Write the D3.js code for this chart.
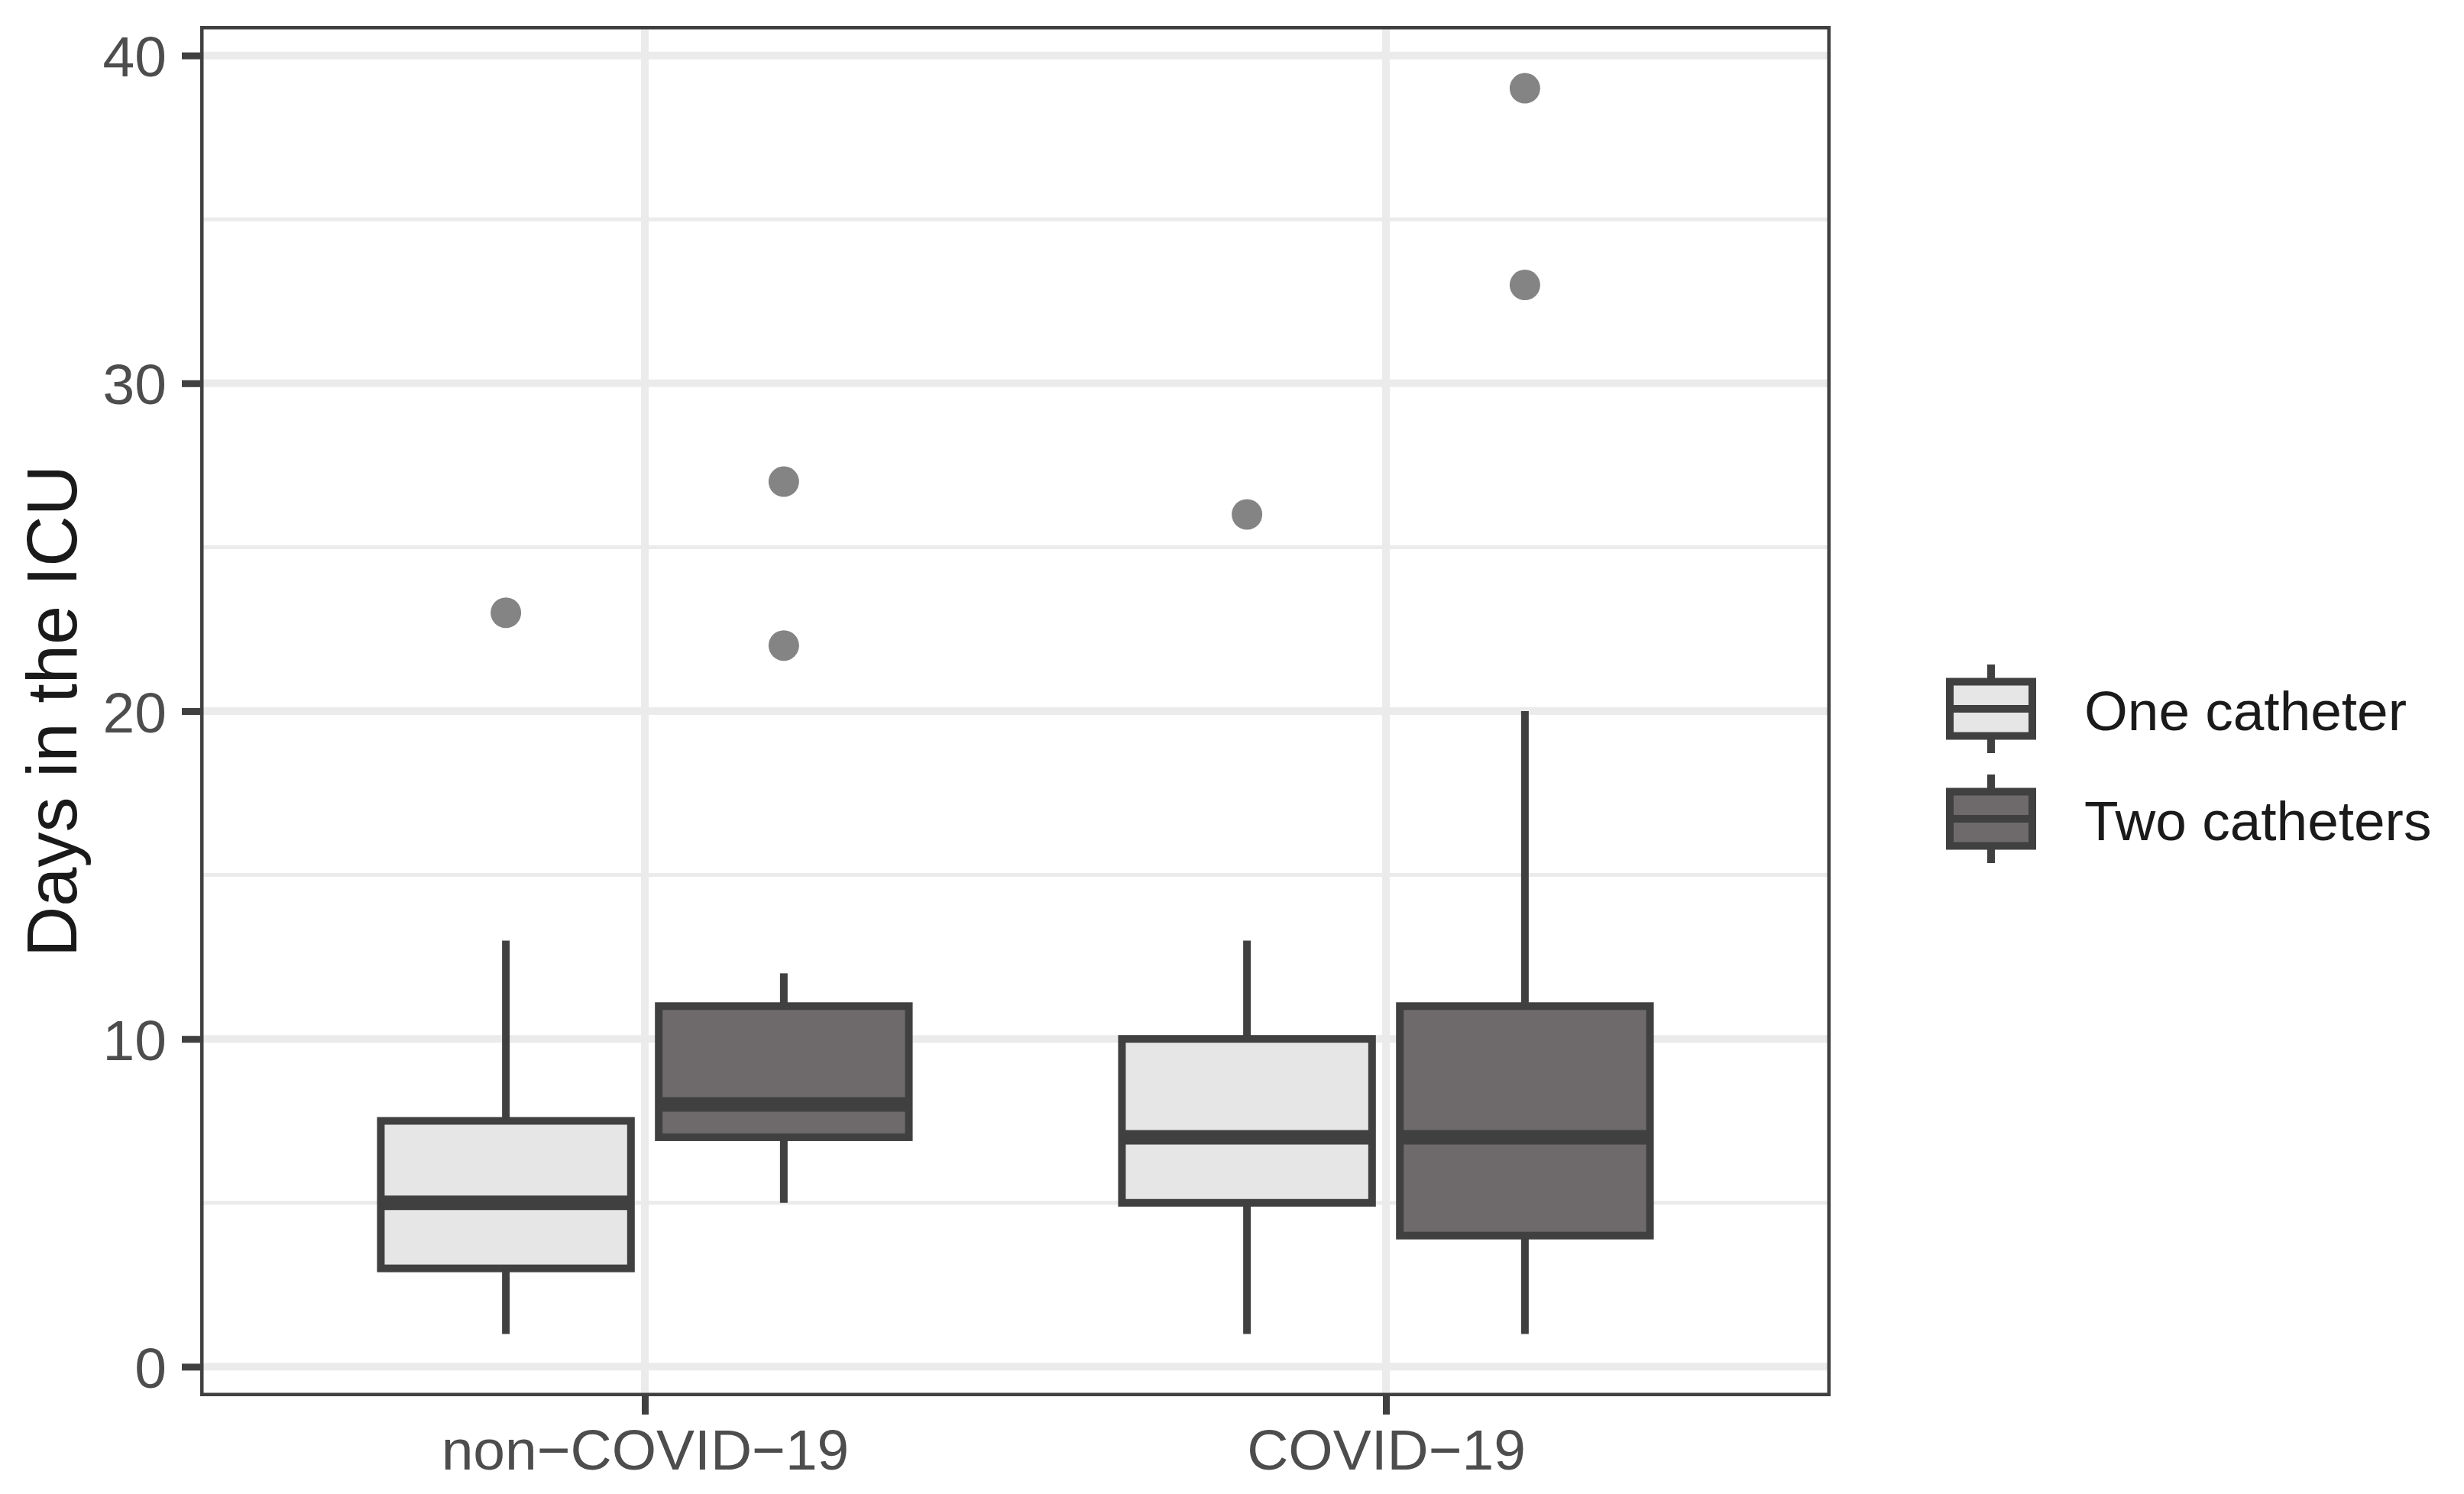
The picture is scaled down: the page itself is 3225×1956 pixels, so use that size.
<!DOCTYPE html>
<meta charset="utf-8">
<script src="https://d3js.org/d3.v7.min.js"></script>
<style>
  body { margin: 0; background: #fff; }
  text { font-family: "Liberation Sans", Arial, sans-serif; }
</style>
<svg id="chart" width="3225" height="1956"></svg>
<script>

// data
var groups = ["non\u2212COVID\u221219", "COVID\u221219"];
var catheters = ["One catheter", "Two catheters"];
var fills = ["#e6e6e6", "#6e6a6b"];

// one entry per box, in order group x catheter
var boxGroup = [0, 0, 1, 1];
var boxCath = [0, 1, 0, 1];
var whiskerLow = [1, 5, 1, 1];
var q1 = [3, 7, 5, 4];
var median = [5, 8, 7, 7];
var q3 = [7.5, 11, 10, 11];
var whiskerHigh = [13, 12, 13, 20];
var outliers = [[23], [27, 22], [26], [39, 33]];

var yTicks = [0, 10, 20, 30, 40];
var yMinor = [5, 15, 25, 35];

var svg = d3.select("svg");
var ink = "#404040";

// panel  (window.top is read-only, so no "top" here)
var pLeft = 262, pRight = 2396, pTop = 34, pBottom = 1828;

var x = d3.scalePoint()
    .domain(groups)
    .range([pLeft, pRight])
    .padding(0.6);

var step = x.step();
var dodge = d3.scaleBand()
    .domain(catheters)
    .range([-0.375 * step, 0.375 * step]);
var boxW = dodge.bandwidth() * 0.9;

var y = d3.scaleLinear()
    .domain([-0.9, 40.9])
    .range([pBottom, pTop]);

function cx(i) {
  return x(groups[boxGroup[i]]) + dodge(catheters[boxCath[i]]) + dodge.bandwidth() / 2;
}

// grid
var grid = svg.append("g");
grid.selectAll(".minor").data(yMinor).enter().append("line")
    .attr("x1", pLeft).attr("x2", pRight)
    .attr("y1", d => y(d)).attr("y2", d => y(d))
    .attr("stroke", "#ebebeb").attr("stroke-width", 5);
grid.selectAll(".major").data(yTicks).enter().append("line")
    .attr("x1", pLeft).attr("x2", pRight)
    .attr("y1", d => y(d)).attr("y2", d => y(d))
    .attr("stroke", "#ebebeb").attr("stroke-width", 10);
grid.selectAll(".vmajor").data(groups).enter().append("line")
    .attr("x1", d => x(d)).attr("x2", d => x(d))
    .attr("y1", pTop).attr("y2", pBottom)
    .attr("stroke", "#ebebeb").attr("stroke-width", 10);

// boxes
var idx = d3.range(boxGroup.length);
var boxes = svg.append("g").selectAll("g").data(idx).enter().append("g");

boxes.append("line")
    .attr("x1", i => cx(i)).attr("x2", i => cx(i))
    .attr("y1", i => y(whiskerHigh[i])).attr("y2", i => y(q3[i]))
    .attr("stroke", ink).attr("stroke-width", 10);
boxes.append("line")
    .attr("x1", i => cx(i)).attr("x2", i => cx(i))
    .attr("y1", i => y(q1[i])).attr("y2", i => y(whiskerLow[i]))
    .attr("stroke", ink).attr("stroke-width", 10);
boxes.append("rect")
    .attr("x", i => cx(i) - boxW / 2)
    .attr("width", boxW)
    .attr("y", i => y(q3[i]))
    .attr("height", i => y(q1[i]) - y(q3[i]))
    .attr("fill", i => fills[boxCath[i]])
    .attr("stroke", ink).attr("stroke-width", 10);
boxes.append("line")
    .attr("x1", i => cx(i) - boxW / 2).attr("x2", i => cx(i) + boxW / 2)
    .attr("y1", i => y(median[i])).attr("y2", i => y(median[i]))
    .attr("stroke", ink).attr("stroke-width", 19);

// outliers
boxes.selectAll("circle").data(i => outliers[i].map(v => [i, v])).enter().append("circle")
    .attr("cx", d => cx(d[0]))
    .attr("cy", d => y(d[1]))
    .attr("r", 20)
    .attr("fill", "#848484");

// panel border (half of it is clipped in ggplot)
svg.append("rect")
    .attr("x", pLeft + 2.25).attr("y", pTop + 2.25)
    .attr("width", pRight - pLeft - 4.5).attr("height", pBottom - pTop - 4.5)
    .attr("fill", "none").attr("stroke", ink).attr("stroke-width", 4.5);

// axes
var yAxis = svg.append("g")
    .attr("transform", "translate(" + pLeft + ",0)")
    .call(d3.axisLeft(y).tickValues(yTicks).tickSize(24).tickPadding(20));
var xAxis = svg.append("g")
    .attr("transform", "translate(0," + pBottom + ")")
    .call(d3.axisBottom(x).tickSize(24).tickPadding(16));
[yAxis, xAxis].forEach(function(a) {
  a.select(".domain").remove();
  a.selectAll(".tick line").attr("stroke", ink).attr("stroke-width", 9);
  a.selectAll(".tick text")
    .attr("fill", "#4d4d4d")
    .style("font-size", "75px")
    .style("font-family", "'Liberation Sans', Arial, sans-serif");
});
yAxis.selectAll(".tick text").attr("dy", "0.36em");
xAxis.selectAll(".tick text").attr("dy", "0.74em");

// y title
svg.append("text")
    .attr("transform", "translate(100," + (pTop + pBottom) / 2 + ") rotate(-90)")
    .attr("text-anchor", "middle")
    .attr("fill", "#1a1a1a")
    .style("font-size", "92px")
    .text("Days in the ICU");

// legend
var keyX = 2606, keyY = [928, 1072];
var leg = svg.append("g").selectAll("g").data(catheters).enter().append("g")
    .attr("transform", (d, i) => "translate(" + keyX + "," + keyY[i] + ")");
leg.append("line")
    .attr("x1", 0).attr("x2", 0).attr("y1", -58).attr("y2", 58)
    .attr("stroke", ink).attr("stroke-width", 10);
leg.append("rect")
    .attr("x", -54).attr("y", -35.5).attr("width", 108).attr("height", 71)
    .attr("fill", (d, i) => fills[i])
    .attr("stroke", ink).attr("stroke-width", 10);
leg.append("line")
    .attr("x1", -54).attr("x2", 54).attr("y1", 0).attr("y2", 0)
    .attr("stroke", ink).attr("stroke-width", 10);
leg.append("text")
    .attr("x", 122)
    .attr("y", 28)
    .attr("fill", "#1a1a1a")
    .style("font-size", "73px")
    .text(d => d);

</script>
